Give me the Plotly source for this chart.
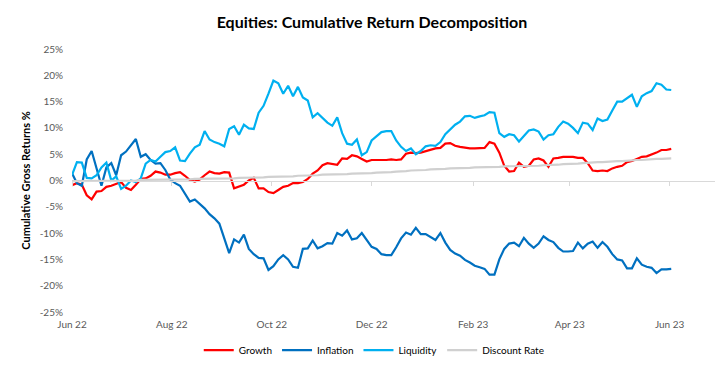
import plotly.graph_objects as go
import pandas as pd

# 3-day sampling grid from 1 Jun 2022 to 2 Jun 2023
dates = pd.date_range("2022-06-01", periods=123, freq="3D")

growth = [
    -0.9, -0.5, -0.8, -2.8, -3.6, -2.1, -2.0, -1.2, -1.0, -0.6,
    -0.3, -1.4, -1.8, -0.8, 0.3, 0.4, 0.9, 1.7, 1.5, 1.1,
    1.1, 1.4, 1.6, 0.9, 0.1, -0.2, 0.2, 1.0, 1.7, 1.4,
    1.3, 1.6, 1.5, -1.5, -1.2, -0.8, 0.0, 0.5, -1.5, -1.5,
    -2.2, -2.4, -1.8, -1.2, -1.0, -0.5, -0.5, -0.3, 0.3, 1.3,
    1.9, 2.9, 3.3, 3.2, 3.0, 4.2, 4.1, 4.8, 4.6, 4.1,
    3.6, 3.9, 3.9, 3.8, 3.9, 4.0, 3.9, 4.0, 5.1, 5.3,
    5.2, 5.3, 5.6, 5.8, 6.1, 6.2, 7.0, 7.1, 6.6, 6.4,
    6.2, 6.1, 6.1, 6.2, 6.2, 7.3, 7.0, 5.3, 2.8, 1.7,
    1.8, 3.4, 2.6, 2.8, 4.0, 4.2, 3.8, 2.6, 4.2, 4.3,
    4.5, 4.5, 4.5, 4.3, 4.3, 3.3, 1.9, 1.8, 1.9, 1.8,
    2.3, 2.6, 2.8, 3.5, 3.7, 4.1, 4.5, 4.6, 4.9, 5.3,
    5.8, 5.8, 6.0,
]

inflation = [
    1.4, -0.5, -1.0, 4.0, 5.6, 2.5, -1.0, 2.5, 3.3, 1.0,
    4.8, 5.5, 6.8, 7.9, 4.5, 5.0, 3.9, 3.2, 3.3, 2.0,
    0.2, -0.5, -1.0, -2.6, -4.0, -3.6, -4.5, -5.3, -6.4, -7.2,
    -8.2, -10.9, -13.8, -11.2, -11.8, -10.3, -13.0, -14.0, -14.7, -14.8,
    -17.0, -16.3, -15.0, -14.2, -15.0, -16.4, -16.6, -13.0, -12.9, -11.4,
    -12.9, -12.5, -11.9, -12.0, -10.0, -10.5, -9.5, -11.2, -11.0, -10.0,
    -11.2, -12.6, -13.0, -14.0, -14.2, -14.2, -12.7, -11.0, -9.9, -10.3,
    -9.0, -10.2, -10.2, -10.7, -11.3, -10.0, -11.8, -13.2, -13.9, -14.3,
    -15.1, -15.6, -16.2, -16.5, -16.8, -17.9, -17.9, -15.0, -13.0, -12.0,
    -11.8, -12.5, -10.9, -12.0, -12.8, -12.0, -10.6, -11.3, -11.7, -12.8,
    -13.5, -13.5, -13.4, -11.8, -12.9, -12.0, -11.6, -12.8, -11.7, -12.6,
    -14.0, -15.0, -15.2, -16.7, -16.7, -14.8, -16.0, -16.4, -16.6, -17.6,
    -16.9, -16.9, -16.8,
]

liquidity = [
    1.0, 3.5, 3.4, 0.5, 0.4, 1.0, 2.5, 3.4, 0.0, 0.8,
    -1.6, -1.0, 0.0, -0.3, 0.4, 3.2, 3.9, 3.6, 4.5, 5.4,
    5.6, 6.3, 3.8, 3.7, 5.1, 6.3, 6.8, 9.4, 7.8, 7.3,
    7.0, 6.5, 9.8, 10.3, 8.7, 10.6, 9.9, 9.8, 12.9, 14.2,
    16.5, 19.0, 18.5, 16.5, 18.0, 16.0, 17.8, 15.8, 15.2, 12.0,
    12.8, 11.8, 11.0, 10.4, 12.0, 9.0, 7.0, 6.8, 7.8, 4.8,
    5.4, 7.6, 8.4, 9.2, 9.4, 9.4, 7.6, 6.4, 5.6, 6.1,
    5.0, 5.6, 6.5, 6.7, 6.6, 7.3, 8.8, 9.8, 10.6, 11.2,
    12.2, 12.3, 11.9, 12.2, 12.4, 13.0, 12.9, 9.0, 8.3, 8.8,
    8.6, 7.4, 8.4, 9.5, 9.7, 9.3, 7.8, 8.6, 8.8, 10.2,
    11.2, 10.8, 10.0, 9.0, 11.0, 10.8, 9.6, 11.8, 11.3, 11.6,
    13.3, 15.0, 15.0, 15.6, 16.3, 14.0, 16.0, 16.6, 17.0, 18.5,
    18.2, 17.3, 17.2,
]

discount_rate = [
    -0.1, -0.1, -0.1, -0.1, -0.1, 0.0, 0.0, 0.0, 0.0, 0.0,
    0.0, 0.0, 0.0, 0.0, 0.1, 0.1, 0.1, 0.1, 0.1, 0.1,
    0.2, 0.2, 0.2, 0.2, 0.2, 0.3, 0.3, 0.3, 0.3, 0.3,
    0.4, 0.4, 0.4, 0.4, 0.5, 0.5, 0.5, 0.6, 0.6, 0.6,
    0.7, 0.7, 0.7, 0.8, 0.8, 0.8, 0.9, 0.9, 0.9, 1.0,
    1.0, 1.1, 1.1, 1.1, 1.2, 1.2, 1.2, 1.3, 1.3, 1.3,
    1.4, 1.4, 1.5, 1.5, 1.6, 1.6, 1.7, 1.7, 1.8, 1.9,
    1.9, 2.0, 2.0, 2.1, 2.1, 2.2, 2.2, 2.3, 2.3, 2.4,
    2.4, 2.4, 2.5, 2.5, 2.5, 2.6, 2.6, 2.6, 2.7, 2.7,
    2.7, 2.7, 2.8, 2.8, 2.8, 2.8, 2.9, 2.9, 3.0, 3.0,
    3.1, 3.1, 3.2, 3.2, 3.3, 3.4, 3.4, 3.5, 3.5, 3.6,
    3.6, 3.7, 3.7, 3.8, 3.8, 3.9, 3.9, 4.0, 4.0, 4.1,
    4.1, 4.2, 4.2,
]

series_names = ["Growth", "Inflation", "Liquidity", "Discount Rate"]
series_colors = ["#FF0000", "#0070C0", "#00B0F0", "#D0D0D0"]
series_values = [growth, inflation, liquidity, discount_rate]

tick_dates = ["2022-06-01", "2022-08-01", "2022-10-01", "2022-12-01",
              "2023-02-01", "2023-04-01", "2023-06-01"]
tick_labels = ["Jun 22", "Aug 22", "Oct 22", "Dec 22", "Feb 23", "Apr 23", "Jun 23"]
y_ticks = [-25, -20, -15, -10, -5, 0, 5, 10, 15, 20, 25]
y_labels = [f"{v}%" for v in y_ticks]

x_range = ["2022-06-01", "2023-07-03"]

fig = go.Figure()
for name, color, vals in zip(series_names, series_colors, series_values):
    fig.add_trace(go.Scatter(
        x=dates, y=[v / 100 for v in vals], name=name, mode="lines",
        line=dict(color=color, width=2.2),
    ))

font_family = "Lato, 'Liberation Sans', sans-serif"

# page body has an 8px default margin, so the figure is 8px smaller
W, H = 715, 362
fig.update_layout(
    width=W, height=H,
    margin=dict(l=64, r=1, t=41, b=58),
    paper_bgcolor="white", plot_bgcolor="white",
    font=dict(family=font_family, color="#595959", size=10),
    title=dict(text="<b>Equities: Cumulative Return Decomposition</b>",
               x=0.509, xanchor="center", y=1 - 14 / H, yanchor="middle",
               yref="container",
               font=dict(size=16, color="#000000", family=font_family)),
    showlegend=True,
    legend=dict(orientation="h", x=0.465, xanchor="center", y=-0.145,
                yanchor="middle", font=dict(size=10, color="#000000"),
                itemwidth=30, tracegroupgap=0),
    xaxis=dict(range=x_range, tickvals=tick_dates, ticktext=tick_labels,
               showgrid=False, zeroline=False, showline=False, ticks="",
               ticklabelstandoff=5, tickfont=dict(size=10, color="#595959")),
    xaxis2=dict(range=x_range, overlaying="x", anchor="free", position=0.5,
                tickvals=tick_dates, showticklabels=False, showgrid=False,
                zeroline=False, showline=True, linecolor="#D9D9D9", linewidth=1,
                ticks="outside", ticklen=4, tickcolor="#D9D9D9"),
    yaxis=dict(range=[-0.25, 0.25], tickvals=[v / 100 for v in y_ticks],
               ticktext=y_labels, showgrid=False, zeroline=False,
               showline=False, ticks="", ticklabelstandoff=8,
               tickfont=dict(size=10, color="#595959"),
               title=dict(text="<b>Cumulative Gross Returns %</b>", standoff=6,
                          font=dict(size=11, color="#000000"))),
)

# invisible helper trace so the overlay axis is drawn
fig.add_trace(go.Scatter(x=[dates[0]], y=[0], xaxis="x2", mode="none",
                         showlegend=False, hoverinfo="skip"))

fig.write_html("out.html")
